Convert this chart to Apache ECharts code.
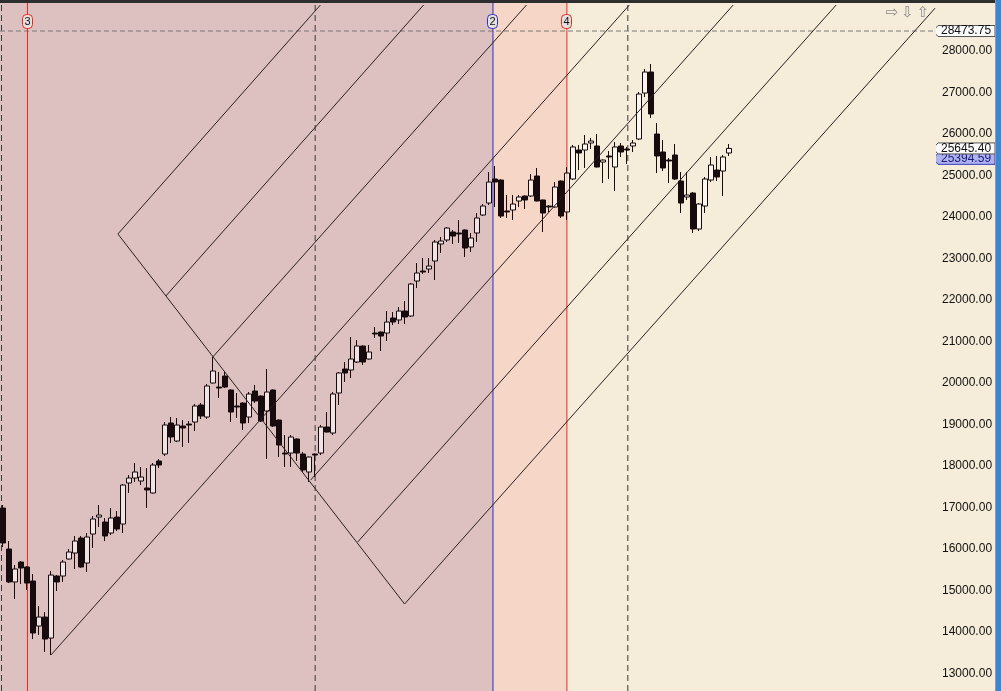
<!DOCTYPE html>
<html>
<head>
<meta charset="utf-8">
<style>
  html, body { margin: 0; padding: 0; background: #f5ecda; }
  #wrap { position: relative; width: 1001px; height: 691px; overflow: hidden; background: #f5ecda; }
  #chart { position: absolute; left: 0; top: 0; width: 1001px; height: 691px; }
  #topbar { position: absolute; left: 0; top: 0; width: 1001px; height: 3px; background: #2e2e2e; }
  #rightbar { position: absolute; right: 0; top: 0; width: 5px; height: 691px; background: #3d86cf; border-left: 1px solid #9a9a9a; }
</style>
<script src="https://cdn.jsdelivr.net/npm/echarts@6/dist/echarts.min.js"></script>
</head>
<body>
<div id="wrap">
  <div id="chart"></div>
  <div id="topbar"></div>
  <div id="rightbar"></div>
</div>
<script>
// weekly candles: [open, close, low, high]
const candles = [
  [16982, 16139, 16043, 17055], [15995, 15200, 15175, 16187], [15200, 15513, 14790, 15609], [15681, 15537, 15151, 15705],
  [15561, 15175, 15007, 15580], [15224, 13971, 13826, 15392], [14139, 14356, 13923, 14621], [14356, 13826, 13513, 14477],
  [13850, 15368, 13441, 15465], [15344, 15200, 14983, 15368], [15344, 15681, 15200, 15730], [15754, 15922, 15740, 15995],
  [15898, 16187, 15513, 16308], [16260, 15561, 15540, 16308], [15657, 16284, 15440, 16380], [16356, 16717, 16019, 16790],
  [16765, 16814, 16525, 17055], [16645, 16308, 16187, 16741], [16380, 16741, 16332, 16982], [16765, 16476, 16428, 16910],
  [16597, 17536, 16380, 17560], [17585, 17705, 17344, 17777], [17705, 17850, 17609, 18066], [17633, 17729, 17536, 17970],
  [17464, 17416, 16982, 17946], [17344, 18018, 17330, 18066], [18115, 18018, 17946, 18163], [18283, 18982, 18235, 19054],
  [19030, 18693, 18548, 19175], [18596, 18982, 18572, 19151], [18958, 18910, 18452, 19102], [19006, 18982, 18548, 19078],
  [19054, 19440, 18837, 19488], [19464, 19199, 19127, 19512], [19175, 19922, 19127, 19970], [19994, 20283, 19980, 20620],
  [19897, 19873, 19632, 20259], [20162, 19897, 19873, 20259], [19825, 19295, 19054, 19840], [19440, 19416, 19151, 19753],
  [19512, 19030, 18861, 19525], [19175, 19729, 19030, 19777], [19801, 19560, 19512, 19946], [19681, 19078, 19054, 19695],
  [19319, 19777, 18163, 20331], [19825, 18958, 18935, 19840], [19102, 18500, 18211, 19115], [18307, 18283, 17970, 18741],
  [18307, 18693, 17970, 18741], [18645, 18307, 18115, 18660], [18283, 17898, 17850, 18331], [17850, 18211, 17609, 18225],
  [18283, 18259, 17729, 18295], [18307, 18934, 18259, 18982], [18934, 18813, 18800, 19295], [18789, 19729, 18741, 19777],
  [19753, 20235, 19464, 20259], [20331, 20235, 20018, 20500], [20307, 20572, 20114, 21102], [20500, 20885, 20476, 21030],
  [20885, 20500, 20427, 20900], [20572, 20741, 20560, 20909], [21198, 21174, 21078, 21343], [21222, 21126, 20765, 21235],
  [21198, 21463, 21006, 21728], [21560, 21463, 21391, 21704], [21512, 21728, 21415, 21825], [21728, 21584, 21415, 21969],
  [21608, 22379, 21584, 22403], [22451, 22644, 22282, 22885], [22692, 22668, 22620, 23005], [22740, 22812, 22644, 23005],
  [22933, 23391, 22475, 23439], [23343, 23415, 23126, 23511], [23439, 23728, 23391, 23752], [23632, 23535, 23343, 23680],
  [23608, 23584, 23367, 23921], [23680, 23246, 23029, 23695], [23270, 23487, 23150, 23608], [23608, 23969, 23391, 24089],
  [24041, 24258, 24017, 24306], [24330, 24836, 24282, 25077], [24909, 24836, 24234, 25222], [24884, 24017, 23969, 24900],
  [24138, 24114, 23969, 24523], [24162, 24306, 23921, 24523], [24379, 24475, 24234, 24523], [24499, 24403, 24186, 24510],
  [24499, 24884, 24475, 25029], [24981, 24379, 24370, 25174], [24403, 24089, 23632, 24415], [24258, 24234, 24114, 24282],
  [24234, 24716, 24220, 24836], [24860, 24017, 23969, 24875], [24114, 25053, 23921, 25198], [24909, 25680, 24884, 25728],
  [25607, 25535, 25125, 25728], [25607, 25752, 25174, 25969], [25776, 25824, 25631, 25896], [25704, 25198, 25185, 25993],
  [25318, 25366, 24812, 25380], [25463, 25439, 24909, 25583], [25198, 25680, 24619, 25800], [25704, 25559, 25439, 25776],
  [25631, 25607, 25270, 25680], [25704, 25776, 25559, 25848], [25872, 26956, 25848, 27005], [26980, 27486, 26884, 27559],
  [27486, 26475, 26378, 27679], [25993, 25463, 25053, 26258], [25559, 25174, 25101, 25848], [25366, 25342, 24812, 25415],
  [25487, 24909, 24884, 25752], [24860, 24330, 24089, 25077], [24475, 24523, 24403, 25077], [24571, 23704, 23608, 24595],
  [23704, 24306, 23656, 24330], [24258, 24909, 24089, 24957], [24884, 25246, 24836, 25439], [25125, 24957, 24860, 25463],
  [25101, 25439, 24499, 25487], [25535, 25645.40, 25463, 25752]
];

// total slots on the time axis (candles plus empty space on the right)
const slotCount = 156;
const slots = Array.from({ length: slotCount }, (_, i) => String(i));

// cycle markers (slot index) and their labels
const cycleAt = [4.078, 81.663, 93.982];
const cycleNames = ['3', '2', '4'];
const dashedAt = [-0.25, 52.027, 104.138];

// shaded periods
const periodEdges = [-0.5, 81.663, 93.982, 155.5];

// price markers
const crossPrice = 28473.75;
const lastClose = 25645.40;
const refPrice = 25394.59;

// gann grid: one falling line and parallel rising lines, [slot, price]
const gannDown = [[19.15, 23584], [66.93, 14670]];
const gannUp = [
  [[19.15, 23584], [52.9, 29101]],
  [[27.14, 22090], [70.1, 29101]],
  [[34.96, 20620], [87.25, 29101]],
  [[7.99, 13441], [104.4, 29101]],
  [[51.28, 17657], [121.7, 29101]],
  [[59.11, 16163], [138.86, 29101]],
  [[66.93, 14670], [155.34, 29024]]
];

const yMin = 12574;
const yMax = 29149;

const INK = '#170b0e';
const LINE = '#2b1e20';
const FONT = '"Liberation Sans", Arial, sans-serif';
const cycleColors = ['#e8281f', '#2e2ec8', '#e8281f'];
const periodColors = ['#ddc1c0', '#f6d6c6', '#f5ecda'];

const chart = echarts.init(document.getElementById('chart'), null, { renderer: 'canvas' });

function segSeries(points, style, z) {
  return {
    type: 'line',
    xAxisIndex: 1,
    yAxisIndex: 0,
    data: points,
    symbol: 'none',
    silent: true,
    z: z,
    color: style.color,
    lineStyle: style,
    emphasis: { disabled: true }
  };
}

const markerSeries = []
  .concat(dashedAt.map(v => segSeries([[v, yMin], [v, yMax]], { color: '#3a3a3a', type: [6, 4], width: 1 }, 2)))
  .concat([segSeries([[-0.5, crossPrice], [slotCount - 0.5, crossPrice]], { color: '#7a7a7a', type: [5, 3], width: 1 }, 2)])
  .concat(cycleAt.map((v, k) => segSeries([[v, yMin], [v, yMax]], { color: cycleColors[k], type: 'solid', width: 1 }, 2)));

const gannSeries = [gannDown].concat(gannUp).map(seg => segSeries(seg, { color: LINE, width: 1 }, 4));

chart.setOption({
  animation: false,
  backgroundColor: 'transparent',
  grid: { left: -1, right: 65, top: 3, bottom: 0 },
  xAxis: [
    { type: 'category', data: slots, show: false, boundaryGap: true },
    { type: 'value', min: -0.5, max: slotCount - 0.5, show: false }
  ],
  yAxis: {
    type: 'value',
    position: 'right',
    min: yMin,
    max: yMax,
    splitNumber: 16,
    axisLine: { show: true, lineStyle: { color: '#555', width: 1 } },
    axisTick: { show: true, inside: true, length: 5, lineStyle: { color: '#333' } },
    minorTick: { show: true, splitNumber: 5, length: 3, lineStyle: { color: '#333' } },
    splitLine: { show: false },
    axisLabel: {
      showMinLabel: false,
      showMaxLabel: false,
      margin: 6,
      color: '#111',
      fontSize: 12,
      fontFamily: FONT,
      formatter: v => (v > 28600 ? '' : v.toFixed(2))
    }
  },
  series: [
    {
      type: 'line',
      xAxisIndex: 1,
      yAxisIndex: 0,
      data: [],
      silent: true,
      z: 1,
      markArea: {
        silent: true,
        data: periodColors.map((c, k) => [
          { xAxis: periodEdges[k], itemStyle: { color: c, opacity: 1 } },
          { xAxis: periodEdges[k + 1] }
        ])
      }
    },
    {
      type: 'candlestick',
      xAxisIndex: 0,
      yAxisIndex: 0,
      data: candles,
      barWidth: 5,
      silent: true,
      z: 3,
      itemStyle: {
        color: 'rgba(255,255,255,0.55)',
        color0: INK,
        borderColor: INK,
        borderColor0: INK,
        borderColorDoji: INK,
        borderWidth: 1
      }
    }
  ].concat(markerSeries).concat(gannSeries)
});

// price tags, cycle labels and navigation arrows placed through the axes
const refSeries = 2; // first marker series, on the value x axis

function priceTag(value, fill, stroke, textColor) {
  const y = chart.convertToPixel({ seriesIndex: refSeries }, [0, value])[1];
  return {
    type: 'group',
    z: 100,
    children: [
      {
        type: 'polygon',
        shape: { points: [[933, y], [938, y - 5.5], [995, y - 5.5], [995, y + 5.5], [938, y + 5.5]] },
        style: { fill: fill, stroke: stroke, lineWidth: 1 }
      },
      {
        type: 'text',
        x: 941, y: y,
        style: { text: value.toFixed(2), fill: textColor, font: '12px ' + FONT, verticalAlign: 'middle', align: 'left' }
      }
    ]
  };
}

const graphics = [
  priceTag(crossPrice, '#fbfbfb', '#555', '#111'),
  priceTag(refPrice, '#aeb2f0', '#3838b8', '#1c1c78'),
  priceTag(lastClose, '#fbfbfb', '#555', '#111')
];

cycleAt.forEach((v, k) => {
  const x = Math.round(chart.convertToPixel({ seriesIndex: refSeries }, [v, yMax])[0] - 0.5) + 0.5;
  graphics.push({
    type: 'rect',
    z: 100,
    shape: { x: x - 5, y: 14.5, width: 10, height: 14, r: 4 },
    style: { fill: '#e4e0e0', stroke: cycleColors[k], lineWidth: 1 }
  });
  graphics.push({
    type: 'text',
    z: 101,
    x: x, y: 22,
    style: { text: cycleNames[k], fill: '#111', font: '11px ' + FONT, align: 'center', verticalAlign: 'middle' }
  });
});

['\u21E8', '\u21E9', '\u21E7'].forEach((ch, k) => {
  graphics.push({
    type: 'text',
    z: 100,
    x: 892 + k * 15.5, y: 13,
    style: { text: ch, fill: '#8c8c8c', font: '15px "DejaVu Sans"', align: 'center', verticalAlign: 'middle' }
  });
});

chart.setOption({ graphic: graphics });
</script>
</body>
</html>
